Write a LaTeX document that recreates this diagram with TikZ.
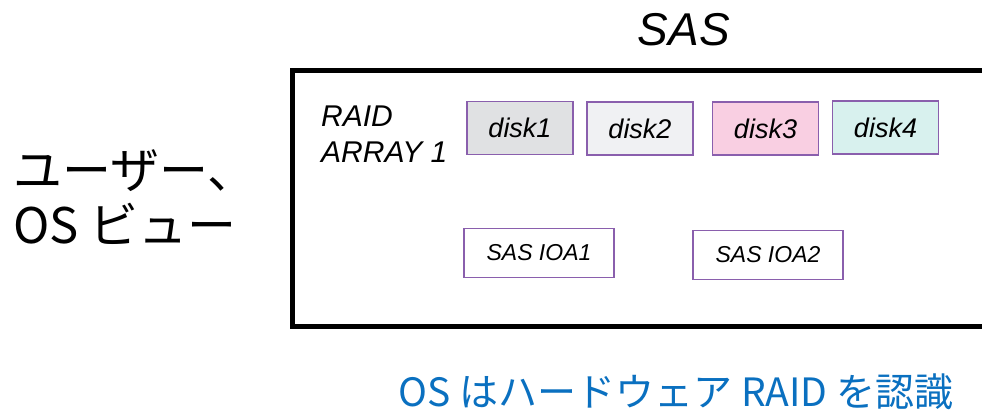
\documentclass[tikz,border=0pt]{standalone}
\usepackage{fontspec}
\setmainfont{Liberation Sans}
\newfontfamily\jpfont{Noto Sans CJK JP}
\definecolor{boxpurple}{HTML}{8A5FAD}
\definecolor{diskgray}{HTML}{E0E1E3}
\definecolor{disklight}{HTML}{F0F1F3}
\definecolor{diskpink}{HTML}{F9CFE2}
\definecolor{diskteal}{HTML}{D8F1EE}
\definecolor{noteblue}{HTML}{0A70C0}
\tikzset{
  diskbox/.style={draw=boxpurple, line width=1.6pt, minimum width=106pt,
    minimum height=53pt, inner sep=0pt,
    font=\fontsize{27}{27}\selectfont\itshape},
  ioabox/.style={draw=boxpurple, line width=1.6pt, fill=white,
    minimum width=150pt, minimum height=49pt, inner sep=0pt,
    font=\fontsize{23}{23}\selectfont\itshape},
}
\begin{document}
\begin{tikzpicture}[x=1pt,y=-1pt]
  \clip (0,0) rectangle (982,412);
  \fill[white] (0,0) rectangle (982,412);

  % enclosure frame (runs off the right edge)
  \node[draw, line width=5pt, inner sep=0pt, minimum width=720pt,
        minimum height=256pt, anchor=north west] (sasframe) at (290,68) {};

  % titles and labels (base anchor of a multi-line node = last line)
  \node[anchor=base, inner sep=0pt, font=\fontsize{46}{46}\selectfont\itshape]
    (sastitle) at (684,46) {SAS};
  \node[anchor=base west, inner sep=0pt, align=left,
        font=\fontsize{30}{36}\selectfont\itshape]
    (raidlabel) at (321,162) {RAID\\ARRAY 1};
  \node[anchor=base west, inner sep=0pt, align=left,
        font=\fontsize{49}{55}\selectfont\jpfont]
    (userview) at (13,243) {ユーザー、\\OS ビュー};

  % disks of the array
  \node[diskbox, fill=diskgray]  (disk1) at (520,128)   {disk1};
  \node[diskbox, fill=disklight] (disk2) at (640,128.5) {disk2};
  \node[diskbox, fill=diskpink]  (disk3) at (765.5,128.5) {disk3};
  \node[diskbox, fill=diskteal]  (disk4) at (885.5,127.5) {disk4};

  % I/O adapters
  \node[ioabox] (ioa1) at (539,253) {SAS IOA1};
  \node[ioabox] (ioa2) at (768,255) {SAS IOA2};

  % note below the frame
  \node[anchor=base, inner sep=0pt, text=noteblue,
        font=\fontsize{39}{39}\selectfont\jpfont]
    (osnote) at (676,406) {OS はハードウェア RAID を認識};
\end{tikzpicture}
\end{document}
